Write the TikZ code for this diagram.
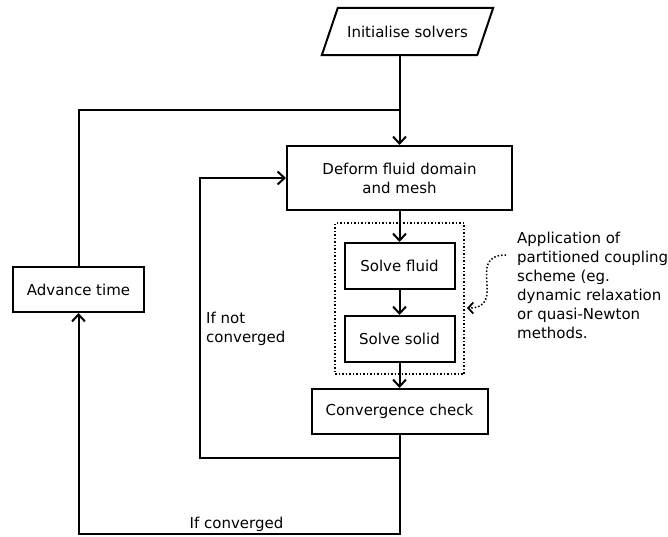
\documentclass[tikz,border=0pt]{standalone}
\usepackage{fontspec}
\setmainfont{DejaVu Sans}
\usetikzlibrary{arrows.meta}

\tikzset{
  stepbox/.style={draw, line width=2pt, minimum height=45pt, inner sep=2pt, align=center},
  flow/.style={line width=2pt, -{Straight Barb[length=7pt,width=13pt,line width=2pt]}},
  link/.style={line width=2pt},
  hint/.style={dotted, line width=1.5pt, -{Straight Barb[length=5pt,width=11pt,line width=1.8pt]}},
}

\begin{document}
\begin{tikzpicture}[x=1pt, y=-1pt, font=\fontsize{15}{19}\selectfont]
	\useasboundingbox (0,0) rectangle (668,537);

	% Draw boxes
	\node[minimum width=155pt, minimum height=47pt, inner sep=0pt] (init) at (407.5,31.5) {Initialise solvers};
	\draw[line width=2pt, line join=miter] ([xshift=-8pt]init.south west) -- ([xshift=8pt]init.north west)
	      -- ([xshift=8pt]init.north east) -- ([xshift=-8pt]init.south east) -- cycle;
	\node[stepbox, minimum width=225pt, minimum height=64pt] (deform) at (399.5,178) {Deform fluid domain\\and mesh};
	\node[draw, dotted, line width=1.5pt, minimum width=129pt, minimum height=151pt] (scheme) at (399.5,298.5) {};
	\node[stepbox, minimum width=110pt, minimum height=46pt] (fluid) at (399.5,266) {Solve fluid};
	\node[stepbox, minimum width=110pt, minimum height=46pt] (solid) at (399.5,339) {Solve solid};
	\node[stepbox, minimum width=176pt] (check) at (399.5,411.5) {Convergence check};
	\node[stepbox, minimum width=131pt] (advance) at (78.5,289.5) {Advance time};

	% Labels
	\node[anchor=west, align=left, inner sep=0pt] (note) at (517,285) {Application of\\partitioned coupling\\scheme (eg.\\dynamic relaxation\\or quasi-Newton\\methods.};
	\node[anchor=west, align=left, inner sep=0pt] (notconv) at (206,328.5) {If not\\converged};
	\node[inner sep=0pt] (conv) at (236.5,524) {If converged};

	% Corner points of the loops
	\coordinate (join) at (399.5,110);
	\coordinate (back) at (200,458);
	\coordinate (next) at (78.5,534);
	\coordinate (hstart) at (506,255);
	\coordinate (hend) at (467,308);

	% Draw connectors
	\draw[flow] (deform.north |- init.south) -- (deform.north);
	\draw[link] (advance.north) |- (join);
	\draw[flow] (deform.south) -- (fluid.north);
	\draw[flow] (fluid.south) -- (solid.north);
	\draw[flow] (solid.south) -- (check.north);
	\draw[flow] (check.south) |- (back) |- (deform.west);
	\draw[flow] (check.south) |- (next) -- (advance.south);
	\draw[hint] (hstart) to[out=180, in=0, looseness=1.6] (hend);
\end{tikzpicture}
\end{document}
